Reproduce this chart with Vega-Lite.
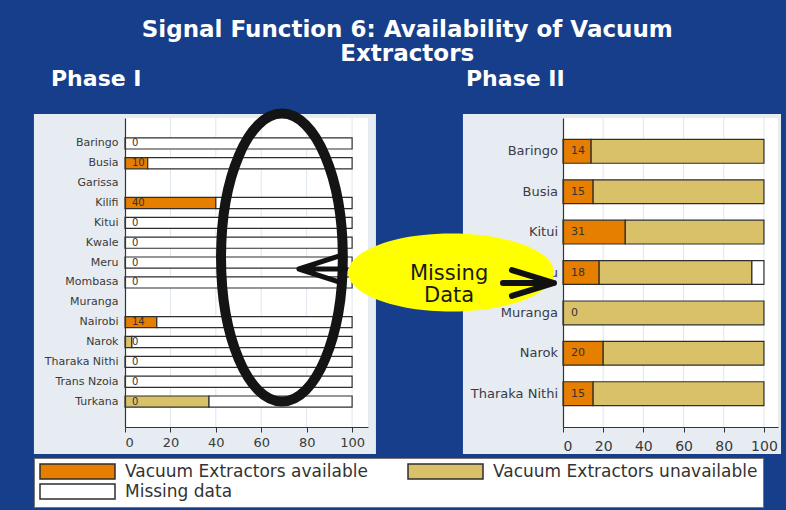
{
  "$schema": "https://vega.github.io/schema/vega-lite/v6.json",
  "background": "#163e8b",
  "padding": {"left": 33, "top": 18, "right": 20, "bottom": 20},
  "autosize": {"type": "pad"},
  "bounds": "flush",
  "spacing": 195,
  "config": {
    "font": "DejaVu Sans",
    "view": {"stroke": null}
  },
  "title": {
    "text": ["Signal Function 6: Availability of Vacuum", "Extractors"],
    "color": "white",
    "fontSize": 23,
    "fontWeight": "bold",
    "lineHeight": 24,
    "anchor": "middle",
    "offset": 2
  },
  "datasets": {
    "p1": [
      {"d": "Baringo", "s": "Vacuum Extractors available", "v": 0, "k": 1},
      {"d": "Baringo", "s": "Missing data", "v": 100, "k": 3},
      {"d": "Busia", "s": "Vacuum Extractors available", "v": 10, "k": 1},
      {"d": "Busia", "s": "Missing data", "v": 90, "k": 3},
      {"d": "Kilifi", "s": "Vacuum Extractors available", "v": 40, "k": 1},
      {"d": "Kilifi", "s": "Missing data", "v": 60, "k": 3},
      {"d": "Kitui", "s": "Vacuum Extractors available", "v": 0, "k": 1},
      {"d": "Kitui", "s": "Missing data", "v": 100, "k": 3},
      {"d": "Kwale", "s": "Vacuum Extractors available", "v": 0, "k": 1},
      {"d": "Kwale", "s": "Missing data", "v": 100, "k": 3},
      {"d": "Meru", "s": "Vacuum Extractors available", "v": 0, "k": 1},
      {"d": "Meru", "s": "Missing data", "v": 100, "k": 3},
      {"d": "Mombasa", "s": "Vacuum Extractors available", "v": 0, "k": 1},
      {"d": "Mombasa", "s": "Missing data", "v": 100, "k": 3},
      {"d": "Nairobi", "s": "Vacuum Extractors available", "v": 14, "k": 1},
      {"d": "Nairobi", "s": "Missing data", "v": 86, "k": 3},
      {"d": "Narok", "s": "Vacuum Extractors available", "v": 0, "k": 1},
      {"d": "Narok", "s": "Vacuum Extractors unavailable", "v": 3, "k": 2},
      {"d": "Narok", "s": "Missing data", "v": 97, "k": 3},
      {"d": "Tharaka Nithi", "s": "Vacuum Extractors available", "v": 0, "k": 1},
      {"d": "Tharaka Nithi", "s": "Missing data", "v": 100, "k": 3},
      {"d": "Trans Nzoia", "s": "Vacuum Extractors available", "v": 0, "k": 1},
      {"d": "Trans Nzoia", "s": "Missing data", "v": 100, "k": 3},
      {"d": "Turkana", "s": "Vacuum Extractors available", "v": 0, "k": 1},
      {"d": "Turkana", "s": "Vacuum Extractors unavailable", "v": 37, "k": 2},
      {"d": "Turkana", "s": "Missing data", "v": 63, "k": 3}
    ],
    "p2": [
      {"d": "Baringo", "s": "Vacuum Extractors available", "v": 14, "k": 1},
      {"d": "Baringo", "s": "Vacuum Extractors unavailable", "v": 86, "k": 2},
      {"d": "Busia", "s": "Vacuum Extractors available", "v": 15, "k": 1},
      {"d": "Busia", "s": "Vacuum Extractors unavailable", "v": 85, "k": 2},
      {"d": "Kitui", "s": "Vacuum Extractors available", "v": 31, "k": 1},
      {"d": "Kitui", "s": "Vacuum Extractors unavailable", "v": 69, "k": 2},
      {"d": "Meru", "s": "Vacuum Extractors available", "v": 18, "k": 1},
      {"d": "Meru", "s": "Vacuum Extractors unavailable", "v": 76, "k": 2},
      {"d": "Meru", "s": "Missing data", "v": 6, "k": 3},
      {"d": "Muranga", "s": "Vacuum Extractors available", "v": 0, "k": 1},
      {"d": "Muranga", "s": "Vacuum Extractors unavailable", "v": 100, "k": 2},
      {"d": "Narok", "s": "Vacuum Extractors available", "v": 20, "k": 1},
      {"d": "Narok", "s": "Vacuum Extractors unavailable", "v": 80, "k": 2},
      {"d": "Tharaka Nithi", "s": "Vacuum Extractors available", "v": 15, "k": 1},
      {"d": "Tharaka Nithi", "s": "Vacuum Extractors unavailable", "v": 85, "k": 2}
    ],
    "grid": [{"g": 20}, {"g": 40}, {"g": 60}, {"g": 80}, {"g": 100}],
    "one": [{}]
  },
  "resolve": {"scale": {"color": "shared"}, "legend": {"color": "shared"}},
  "hconcat": [
    {
      "width": 243,
      "height": 309,
      "title": {"text": "Phase I", "anchor": "start", "frame": "group", "dx": -74, "color": "white", "fontSize": 22, "fontWeight": "bold", "offset": 3},
      "resolve": {"scale": {"y": "independent"}, "axis": {"y": "independent"}},
      "layer": [
        {
          "data": {"name": "one"},
          "mark": {"type": "rect", "color": "#e6ecf1"},
          "encoding": {
            "x": {"datum": -40.1, "type": "quantitative", "scale": {"domain": [0, 107], "nice": false}},
            "x2": {"datum": 110.5},
            "y": {"datum": -0.0874, "type": "quantitative", "scale": {"domain": [0, 1], "nice": false, "zero": false}, "axis": null},
            "y2": {"datum": 1.013}
          }
        },
        {
          "layer": [
            {
              "data": {"name": "one"},
              "mark": {"type": "rect", "color": "#ffffff"},
              "encoding": {
                "x": {"datum": 0, "type": "quantitative", "scale": {"domain": [0, 107], "nice": false}},
                "x2": {"datum": 107}
              }
            },
            {
              "data": {"name": "grid"},
              "mark": {"type": "rule", "color": "#dde6ee", "strokeWidth": 1},
              "encoding": {
                "x": {"field": "g", "type": "quantitative", "scale": {"domain": [0, 107], "nice": false}}
              }
            },
            {
              "data": {"name": "p1"},
              "transform": [{"filter": "datum.v > 0"}],
              "mark": {"type": "bar", "stroke": "#2e2e2e", "strokeWidth": 1.2},
              "encoding": {
                "y": {
                  "field": "d", "type": "nominal",
                  "scale": {"domain": ["Baringo", "Busia", "Garissa", "Kilifi", "Kitui", "Kwale", "Meru", "Mombasa", "Muranga", "Nairobi", "Narok", "Tharaka Nithi", "Trans Nzoia", "Turkana"], "paddingInner": 0.44, "paddingOuter": 1.0},
                  "axis": {"title": null, "ticks": false, "tickSize": 0, "labelPadding": 7, "labelFontSize": 11, "labelColor": "#3a3a3a", "domainColor": "#333333", "domainWidth": 1.2, "zindex": 1}
                },
                "x": {
                  "field": "v", "type": "quantitative",
                  "scale": {"domain": [0, 107], "nice": false},
                  "axis": {"title": null, "values": [0, 20, 40, 60, 80, 100], "grid": false, "tickSize": 5, "tickColor": "#333333", "domainColor": "#333333", "domainWidth": 1.2, "labelFontSize": 13, "labelColor": "#3a3a3a", "labelPadding": 4, "zindex": 1}
                },
                "color": {
                  "field": "s", "type": "nominal",
                  "scale": {"domain": ["Vacuum Extractors available", "Vacuum Extractors unavailable", "Missing data"], "range": ["#e67e00", "#d9c169", "#ffffff"]},
                  "legend": {
                    "orient": "none", "legendX": -91, "legendY": 340, "columns": 2, "direction": "horizontal", "title": null,
                    "symbolType": "M-1,-1H9V1H-1Z", "symbolSize": 225, "symbolStrokeColor": "#2e2e2e", "symbolStrokeWidth": 1.5,
                    "labelFontSize": 17, "labelColor": "#333333", "labelOffset": 69, "labelLimit": 400,
                    "columnPadding": 37, "rowPadding": -1, "padding": 5,
                    "fillColor": "#ffffff", "strokeColor": "#777777"
                  }
                },
                "order": {"field": "k", "type": "quantitative"}
              }
            },
            {
              "data": {"name": "p1"},
              "transform": [{"filter": "datum.k == 1"}],
              "mark": {"type": "text", "align": "left", "baseline": "middle", "dx": 7, "fontSize": 10, "color": "#333333"},
              "encoding": {
                "y": {"field": "d", "type": "nominal"},
                "x": {"datum": 0, "type": "quantitative"},
                "text": {"field": "v", "type": "quantitative"}
              }
            },
            {
              "data": {"name": "one"},
              "mark": {"type": "point", "shape": "M0,-4.8A2.03,4.8 0 1,1 0,4.8A2.03,4.8 0 1,1 0,-4.8Z", "size": 3600, "filled": false, "stroke": "#141414", "strokeWidth": 10, "opacity": 1, "yOffset": -5},
              "encoding": {
                "x": {"datum": 69.1, "type": "quantitative"},
                "y": {"datum": "Meru", "type": "nominal"}
              }
            }
          ]
        }
      ]
    },
    {
      "width": 215,
      "height": 309,
      "title": {"text": "Phase II", "anchor": "start", "frame": "group", "dx": -97, "color": "white", "fontSize": 22, "fontWeight": "bold", "offset": 23},
      "resolve": {"scale": {"y": "independent"}, "axis": {"y": "independent"}},
      "layer": [
        {
          "data": {"name": "one"},
          "mark": {"type": "rect", "color": "#e6ecf1"},
          "encoding": {
            "x": {"datum": -49.8, "type": "quantitative", "scale": {"domain": [0, 107], "nice": false}},
            "x2": {"datum": 108.5},
            "y": {"datum": -0.0874, "type": "quantitative", "scale": {"domain": [0, 1], "nice": false, "zero": false}, "axis": null},
            "y2": {"datum": 1.013}
          }
        },
        {
          "layer": [
            {
              "data": {"name": "one"},
              "mark": {"type": "rect", "color": "#ffffff"},
              "encoding": {
                "x": {"datum": 0, "type": "quantitative", "scale": {"domain": [0, 107], "nice": false}},
                "x2": {"datum": 107}
              }
            },
            {
              "data": {"name": "grid"},
              "mark": {"type": "rule", "color": "#dde6ee", "strokeWidth": 1},
              "encoding": {
                "x": {"field": "g", "type": "quantitative", "scale": {"domain": [0, 107], "nice": false}}
              }
            },
            {
              "data": {"name": "p2"},
              "transform": [{"filter": "datum.v > 0"}],
              "mark": {"type": "bar", "stroke": "#2e2e2e", "strokeWidth": 1.2},
              "encoding": {
                "y": {
                  "field": "d", "type": "nominal",
                  "scale": {"domain": ["Baringo", "Busia", "Kitui", "Meru", "Muranga", "Narok", "Tharaka Nithi"], "paddingInner": 0.41, "paddingOuter": 0.53},
                  "axis": {"title": null, "labels": false, "ticks": false, "tickSize": 0, "domainColor": "#333333", "domainWidth": 1.2, "zindex": 1}
                },
                "x": {
                  "field": "v", "type": "quantitative",
                  "scale": {"domain": [0, 107], "nice": false},
                  "axis": {"title": null, "values": [0, 20, 40, 60, 80, 100], "grid": false, "tickSize": 5, "tickColor": "#333333", "domainColor": "#333333", "domainWidth": 1.2, "labelFontSize": 14, "labelColor": "#3a3a3a", "labelPadding": 7, "zindex": 1}
                },
                "color": {
                  "field": "s", "type": "nominal",
                  "scale": {"domain": ["Vacuum Extractors available", "Vacuum Extractors unavailable", "Missing data"], "range": ["#e67e00", "#d9c169", "#ffffff"]}
                },
                "order": {"field": "k", "type": "quantitative"}
              }
            },
            {
              "data": {"name": "p2"},
              "transform": [{"filter": "datum.k == 1"}],
              "mark": {"type": "text", "align": "left", "baseline": "middle", "dx": 8, "fontSize": 11, "color": "#333333"},
              "encoding": {
                "y": {"field": "d", "type": "nominal"},
                "x": {"datum": 0, "type": "quantitative"},
                "text": {"field": "v", "type": "quantitative"}
              }
            },
            {
              "data": {"name": "p2"},
              "transform": [{"filter": "datum.k == 1"}],
              "mark": {"type": "text", "align": "right", "baseline": "middle", "dx": -5, "fontSize": 13, "color": "#3a3a48"},
              "encoding": {
                "y": {"field": "d", "type": "nominal"},
                "x": {"datum": 0, "type": "quantitative"},
                "text": {"field": "d", "type": "nominal"}
              }
            },
            {
              "data": {"name": "one"},
              "mark": {"type": "point", "shape": "M0,-1.3A3.43,1.3 0 1,1 0,1.3A3.43,1.3 0 1,1 0,-1.3Z", "size": 3600, "filled": true, "fill": "#ffff00", "stroke": null, "opacity": 1},
              "encoding": {
                "x": {"datum": -55.7, "type": "quantitative"},
                "y": {"datum": "Meru", "type": "nominal"}
              }
            },
            {
              "data": {"name": "one"},
              "mark": {"type": "text", "text": ["Missing", "Data"], "align": "center", "baseline": "middle", "lineHeight": 22, "fontSize": 21, "color": "#1a1a1a", "yOffset": 1.5},
              "encoding": {
                "x": {"datum": -56.7, "type": "quantitative"},
                "y": {"datum": "Meru", "type": "nominal"}
              }
            },
            {
              "data": {"name": "one"},
              "mark": {"type": "point", "shape": "M1.55,0L0,0M1.3,-0.42L0,0L1.3,0.42", "size": 3600, "filled": false, "stroke": "#111111", "strokeWidth": 5, "strokeCap": "round", "strokeJoin": "round", "opacity": 1, "yOffset": -3.5},
              "encoding": {
                "x": {"datum": -131.4, "type": "quantitative"},
                "y": {"datum": "Meru", "type": "nominal"}
              }
            },
            {
              "data": {"name": "one"},
              "mark": {"type": "point", "shape": "M-1.7,0L0,0M-1.4,-0.43L0,0L-1.4,0.43", "size": 3600, "filled": false, "stroke": "#111111", "strokeWidth": 6, "strokeCap": "round", "strokeJoin": "round", "opacity": 1, "yOffset": 10.5},
              "encoding": {
                "x": {"datum": -4.5, "type": "quantitative"},
                "y": {"datum": "Meru", "type": "nominal"}
              }
            }
          ]
        }
      ]
    }
  ]
}
